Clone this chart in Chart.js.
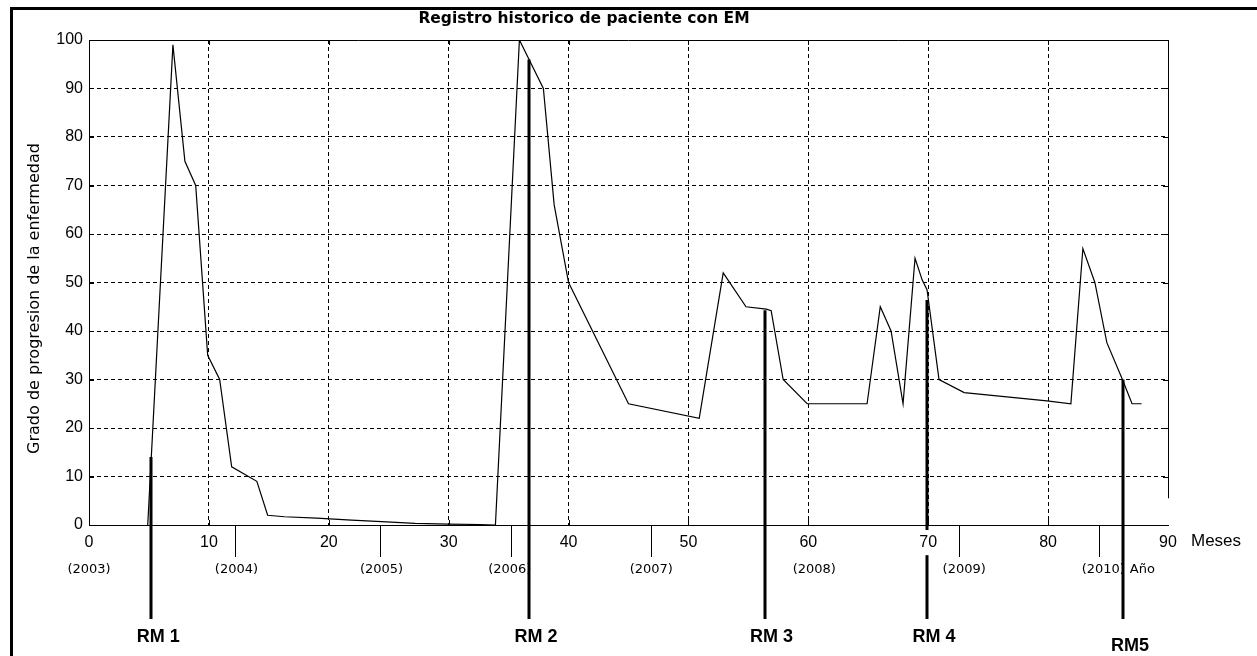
<!DOCTYPE html>
<html>
<head>
<meta charset="utf-8">
<script src="https://cdn.jsdelivr.net/npm/chart.js@4.4.0/dist/chart.umd.min.js"></script>
<style>
  html, body { margin: 0; padding: 0; background: #fff; }
  #wrap { position: relative; width: 1257px; height: 656px; }
  #frame { position: absolute; left: 10px; top: 7px; right: 0; bottom: 0;
           border-top: 3px solid #000; border-left: 3px solid #000; pointer-events: none; }
</style>
</head>
<body>
<div id="wrap">
  <canvas id="myChart" width="1257" height="656"></canvas>
  <div id="frame"></div>
</div>
<script>
// months since start of 2003 and disease grade
const months = [4.9, 7, 8, 8.9, 9.9, 10.9, 11.9, 14, 14.9, 16.3,
  19, 21.9, 24.4, 27.2, 30, 32.6, 33.9, 35.9, 37.9, 38.8,
  40, 45, 50.9, 52.9, 54.8, 56.5, 56.9, 57.9, 59.9, 64.9,
  66, 66.9, 67.9, 68.9, 69.5, 69.9, 70.9, 73, 79.9, 81.9,
  82.9, 83.9, 84.9, 86.2, 87, 87.8]
const grade = [0, 99, 75, 70, 35, 30, 12, 9, 2, 1.7,
  1.4, 1, 0.7, 0.35, 0.2, 0.1, 0, 100, 90, 66,
  50, 25, 22, 52, 45, 44.5, 44.2, 30, 25, 25,
  45, 40, 25, 55, 50.5, 48.5, 30, 27.3, 25.6, 25,
  57, 50, 37.6, 30, 25, 25]

// years under the month axis
const years = ['(2003)', '(2004)', '(2005)', '(2006)', '(2007)', '(2008)', '(2009)', '(2010)']
const yearMonth = [0, 12.3, 24.4, 35.1, 46.9, 60.5, 73, 84.6]
const yearTicks = [12.2, 24.25, 35.2, 46.9, 72.6, 84.25]

// MRI scans (RM)
const rmLabels = ['RM 1', 'RM 2', 'RM 3', 'RM 4', 'RM5']
const rmMonth = [5.2, 36.7, 56.35, 69.9, 86.25]
const rmGrade = [14, 96, 44.3, 46.4, 30]

const tickFont = { family: 'Liberation Sans', size: 16 }

const annot = {
  id: 'annot',
  afterDatasetsDraw(chart) {
    const { ctx, chartArea: a, scales: { x, y } } = chart
    ctx.save()
    ctx.strokeStyle = '#000'
    ctx.fillStyle = '#000'
    ctx.lineWidth = 1

    // top and right box lines
    const rightEnd = y.getPixelForValue(5.5)
    ctx.beginPath()
    ctx.moveTo(a.left, a.top + 0.5); ctx.lineTo(a.right, a.top + 0.5)
    ctx.moveTo(a.right + 0.5, a.top); ctx.lineTo(a.right + 0.5, rightEnd)
    // inward ticks
    for (let v = 0; v <= 100; v += 10) {
      const py = Math.round(y.getPixelForValue(v)) + 0.5
      ctx.moveTo(a.left, py); ctx.lineTo(a.left + 5, py)
      if (v >= 10) { ctx.moveTo(a.right, py); ctx.lineTo(a.right - 5, py) }
    }
    for (let v = 10; v <= 80; v += 10) {
      const px = Math.round(x.getPixelForValue(v)) + 0.5
      ctx.moveTo(px, a.top); ctx.lineTo(px, a.top + 5)
      ctx.moveTo(px, a.bottom); ctx.lineTo(px, a.bottom - 5)
    }
    // year ticks
    yearTicks.forEach(m => {
      const px = Math.round(x.getPixelForValue(m)) + 0.5
      ctx.moveTo(px, a.bottom); ctx.lineTo(px, a.bottom + 32)
    })
    ctx.stroke()

    // y axis title
    ctx.save()
    ctx.translate(35, (a.top + a.bottom) / 2 + 16)
    ctx.rotate(-Math.PI / 2)
    ctx.font = '16px "DejaVu Sans"'
    ctx.textAlign = 'center'
    ctx.textBaseline = 'middle'
    ctx.fillText('Grado de progresion de la enfermedad', 0, 0)
    ctx.restore()

    // year labels
    ctx.font = '13px "DejaVu Sans"'
    ctx.textAlign = 'center'
    ctx.textBaseline = 'middle'
    years.forEach((yr, i) => {
      ctx.fillText(yr, x.getPixelForValue(yearMonth[i]), a.bottom + 45)
    })
    const last = x.getPixelForValue(yearMonth[yearMonth.length - 1])
    const w = ctx.measureText(years[years.length - 1]).width
    ctx.textAlign = 'left'
    ctx.fillText('Año', last + w / 2 + 5, a.bottom + 45)

    // axis unit
    ctx.font = '17px "Liberation Sans"'
    ctx.fillText('Meses', a.right + 23, a.bottom + 16)

    // RM lines and labels
    ctx.lineWidth = 3
    ctx.beginPath()
    rmMonth.forEach((m, i) => {
      const px = Math.round(x.getPixelForValue(m))
      ctx.moveTo(px, y.getPixelForValue(rmGrade[i]))
      ctx.lineTo(px, a.bottom + 94)
    })
    ctx.stroke()
    ctx.font = 'bold 18px "Liberation Sans"'
    ctx.textAlign = 'center'
    rmLabels.forEach((t, i) => {
      const px = x.getPixelForValue(rmMonth[i])
      ctx.fillText(t, px + 7, a.bottom + (i === rmLabels.length - 1 ? 121 : 112))
    })
    ctx.restore()
  }
}

const ctx = document.getElementById('myChart')

new Chart(ctx, {
  type: 'line',
  data: {
    datasets: [{
      data: months.map((m, i) => ({ x: m, y: grade[i] })),
      borderColor: '#000',
      borderWidth: 1.2,
      pointRadius: 0,
      tension: 0,
      fill: false
    }]
  },
  options: {
    responsive: false,
    animation: false,
    layout: { padding: { left: 0, right: 89, top: 0, bottom: 0 } },
    plugins: {
      legend: { display: false },
      tooltip: { enabled: false },
      title: {
        display: true,
        text: 'Registro historico de paciente con EM',
        color: '#000',
        font: { family: 'DejaVu Sans', size: 15.5, weight: 'bold' },
        padding: { top: 10, bottom: 11.4 }
      }
    },
    scales: {
      x: {
        type: 'linear',
        min: 0,
        max: 90,
        ticks: {
          z: 1, stepSize: 10, color: '#000', font: tickFont, padding: 8, maxRotation: 0,
          showLabelBackdrop: true, backdropColor: '#fff', backdropPadding: 3
        },
        grid: {
          color: c => (c.tick && (c.tick.value === 0 || c.tick.value === 90)) ? 'rgba(0,0,0,0)' : '#000',
          lineWidth: 1,
          drawTicks: false
        },
        border: { color: '#000', width: 1, dash: [4, 3] },
        afterFit: s => { s.height = 131 }
      },
      y: {
        min: 0,
        max: 100,
        ticks: { stepSize: 10, color: '#000', font: tickFont, padding: 6 },
        grid: {
          color: c => (c.tick && (c.tick.value === 0 || c.tick.value === 100)) ? 'rgba(0,0,0,0)' : '#000',
          lineWidth: 1,
          drawTicks: false
        },
        border: { color: '#000', width: 1, dash: [4, 3] },
        afterFit: s => { s.width = 89 }
      }
    }
  },
  plugins: [annot]
})
</script>
</body>
</html>
